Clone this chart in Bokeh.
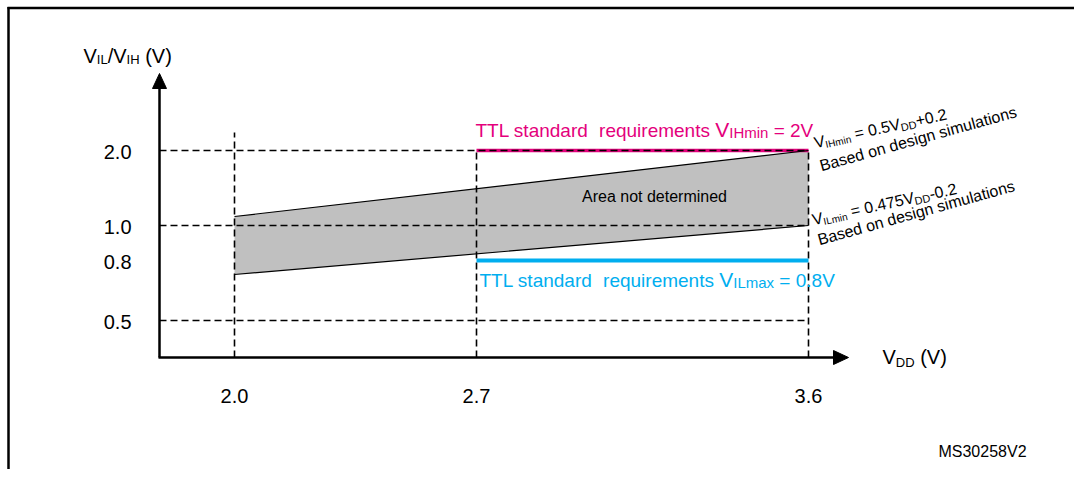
import re
import numpy as np
from bokeh.plotting import figure
from bokeh.models import Range1d, ColumnDataSource
from bokeh.core.properties import value
from bokeh.embed import file_html
from bokeh.resources import INLINE

# ---------------- data (volts) ----------------
VDD_TICKS = [2.0, 2.7, 3.6]
VDD_TICK_LABELS = ["2.0", "2.7", "3.6"]
VIO_TICKS = [0.5, 0.8, 1.0, 2.0]
VIO_TICK_LABELS = ["0.5", "0.8", "1.0", "2.0"]

AREA_VDD = [2.0, 3.6]          # "Area not determined" span
AREA_VIH = [1.12, 2.0]         # upper edge (VIHmin = 0.5VDD+0.2)
AREA_VIL = [0.73, 1.0]         # lower edge (VILmin = 0.475VDD-0.2)

TTL_VDD = [2.7, 3.6]
TTL_VIH_MIN = [2.0, 2.0]
TTL_VIL_MAX = [0.8, 0.8]

GRID_VIO = [0.5, 1.0, 2.0]     # horizontal dashed guides
GRID_VDD = [2.0, 2.7, 3.6]     # vertical dashed guides

# ---------------- layout (pixels) ----------------
W, H = 1074, 469
X_TICK_PX = [234, 476, 808]
Y_TICK_PX = [320, 260, 225, 150]
AXIS_X_PX, AXIS_Y_PX = 159, 357
Y_ARROW_TIP, X_ARROW_TIP = 73, 848
ARROW_LEN, ARROW_HALF = 15, 7
CAP_MID = 0.36   # cap-height centre, in em

PINK = "#E4007C"
BLUE = "#00AEEF"
FONT = "Liberation Sans"


def px(x):
    return x


def py(y):
    return H - y


def xmap(v):
    return px(np.interp(v, VDD_TICKS, X_TICK_PX))


def ymap(v):
    return py(np.interp(v, VIO_TICKS, Y_TICK_PX))


ADV = {' ': 278, '(': 333, ')': 333, '+': 584, '-': 333, '.': 278, '/': 278, '=': 584,
       'A': 667, 'B': 667, 'C': 722, 'D': 722, 'E': 667, 'H': 722, 'I': 278, 'L': 556,
       'M': 833, 'S': 667, 'T': 611, 'V': 667,
       'a': 556, 'b': 556, 'c': 500, 'd': 556, 'e': 556, 'g': 556, 'i': 222, 'l': 222,
       'm': 833, 'n': 556, 'o': 556, 'q': 556, 'r': 333, 's': 500, 't': 278, 'u': 556,
       'x': 500}


def tw(s, size):
    return sum(ADV.get(c, 556) for c in s) * size / 1000.0


p = figure(width=W, height=H, x_range=Range1d(0, W), y_range=Range1d(0, H),
           output_backend="svg", toolbar_location=None, min_border=0,
           x_axis_location=None, y_axis_location=None)
p.grid.visible = False
p.outline_line_color = None
p.background_fill_color = "white"
p.border_fill_color = "white"


def rich(pieces, x0, y0, color="black", angle_deg=0.0, align="left"):
    """Place text pieces along a (possibly rotated) baseline starting at x0, y0."""
    a = np.radians(angle_deg)
    ca, sa = np.cos(a), np.sin(a)
    total = sum(tw(t, s) for t, s, _ in pieces)
    adv = -total / 2 if align == "center" else 0.0
    groups = {}
    for t, s, sub in pieces:
        lift = CAP_MID * s - sub
        for m in re.finditer(r'\S+(?: \S+)*', t):
            off = adv + tw(t[:m.start()], s)
            g = groups.setdefault(s, dict(x=[], y=[], text=[]))
            g["x"].append(x0 + off * ca - lift * sa)
            g["y"].append(y0 + off * sa + lift * ca)
            g["text"].append(m.group(0))
        adv += tw(t, s)
    for s, g in groups.items():
        p.text(x="x", y="y", text="text", source=ColumnDataSource(g),
               text_font_size=f"{s}px", text_font=value(FONT), text_color=color,
               angle=a, text_align="left", text_baseline="middle")


# border of the figure box
p.line([px(7), W], [py(7.5), py(7.5)], line_color="black", line_width=2.5)
p.line([px(8), px(8)], [0, py(6.5)], line_color="black", line_width=2.5)

# undetermined area
ax = [xmap(AREA_VDD[0]), xmap(AREA_VDD[1]), xmap(AREA_VDD[1]), xmap(AREA_VDD[0])]
ay = [ymap(AREA_VIH[0]), ymap(AREA_VIH[1]), ymap(AREA_VIL[1]), ymap(AREA_VIL[0])]
p.patch(ax, ay, fill_color="#C0C0C0", line_color=None)

# TTL VIHmin (pink)
p.line([xmap(v) for v in TTL_VDD], [ymap(v) for v in TTL_VIH_MIN],
       line_color=PINK, line_width=3.5)

# dashed guides
ax0 = px(AXIS_X_PX)
p.multi_line(xs=[[ax0, xmap(GRID_VDD[-1])] for _ in GRID_VIO],
             ys=[[ymap(v), ymap(v)] for v in GRID_VIO],
             line_color="black", line_width=1.6, line_dash="7 4")
vtops = [ymap(max(VIO_TICKS)) + (18 if v == min(GRID_VDD) else 0) for v in GRID_VDD]
p.multi_line(xs=[[xmap(v), xmap(v)] for v in GRID_VDD],
             ys=[[py(AXIS_Y_PX), t] for t in vtops],
             line_color="black", line_width=1.6, line_dash="7 4")

# edges of the area
p.line([xmap(v) for v in AREA_VDD], [ymap(v) for v in AREA_VIH], line_color="black", line_width=1.2)
p.line([xmap(v) for v in AREA_VDD], [ymap(v) for v in AREA_VIL], line_color="black", line_width=1.2)

# TTL VILmax (blue)
p.line([xmap(v) for v in TTL_VDD], [ymap(v) for v in TTL_VIL_MAX],
       line_color=BLUE, line_width=4)

# axes with arrows
oy = py(AXIS_Y_PX)
p.line([ax0, ax0], [oy, py(Y_ARROW_TIP + ARROW_LEN - 1)], line_color="black", line_width=2.5)
p.line([ax0 - 1, px(X_ARROW_TIP - ARROW_LEN + 1)], [oy, oy], line_color="black", line_width=2.5)
p.patch([ax0 - ARROW_HALF, ax0 + ARROW_HALF, ax0],
        [py(Y_ARROW_TIP + ARROW_LEN)] * 2 + [py(Y_ARROW_TIP)],
        fill_color="black", line_color="black")
p.patch([px(X_ARROW_TIP - ARROW_LEN)] * 2 + [px(X_ARROW_TIP)],
        [oy - ARROW_HALF, oy + ARROW_HALF, oy],
        fill_color="black", line_color="black")

# tick labels
p.text(x=[px(131)] * len(VIO_TICKS), y=[ymap(v) - 1 for v in VIO_TICKS], text=VIO_TICK_LABELS,
       text_font=value(FONT), text_font_size="20px", text_align="right",
       text_baseline="middle", text_color="black")
p.text(x=[xmap(v) for v in VDD_TICKS], y=[py(395.5)] * len(VDD_TICKS), text=VDD_TICK_LABELS,
       text_font=value(FONT), text_font_size="20px", text_align="center",
       text_baseline="middle", text_color="black")

# axis titles
rich([("V", 20, 0), ("IL", 13, 1), ("/", 20, 0), ("V", 20, 0), ("IH", 13, 1), (" (V)", 20, 0)],
     px(83), py(63))
rich([("V", 20, 0), ("DD", 13, 2.5), (" (V)", 20, 0)], px(882), py(364))

# TTL annotations
rich([("TTL standard  requirements ", 19, 0), ("V", 21, 0), ("IHmin", 15, 0), (" = 2V", 19, 0)],
     px(475), py(137), color=PINK)
rich([("TTL standard  requirements ", 19, 0), ("V", 21, 0), ("ILmax", 15, 0), (" = 0.8V", 19, 0)],
     px(479), py(287), color=BLUE)

rich([("Area not determined", 16, 0)], px(654), py(202), align="center")

ANG_F, ANG_B = 12.5, 15.5
rich([("V", 16, 0), ("IHmin", 10, 2), (" = 0.5V", 16, 0), ("DD", 11, 2), ("+0.2", 16, 0)],
     px(815), py(148), angle_deg=ANG_F)
rich([("Based on design simulations", 16, 0)], px(821), py(171), angle_deg=ANG_B)
rich([("V", 16, 0), ("ILmin", 10, 2), (" = 0.475V", 16, 0), ("DD", 11, 2), ("-0.2", 16, 0)],
     px(813), py(225), angle_deg=ANG_F)
rich([("Based on design simulations", 16, 0)], px(819), py(245), angle_deg=ANG_B)

rich([("MS30258V2", 16, 0)], px(982), py(457), align="center")

open("out.html", "w").write(file_html(p, INLINE))
